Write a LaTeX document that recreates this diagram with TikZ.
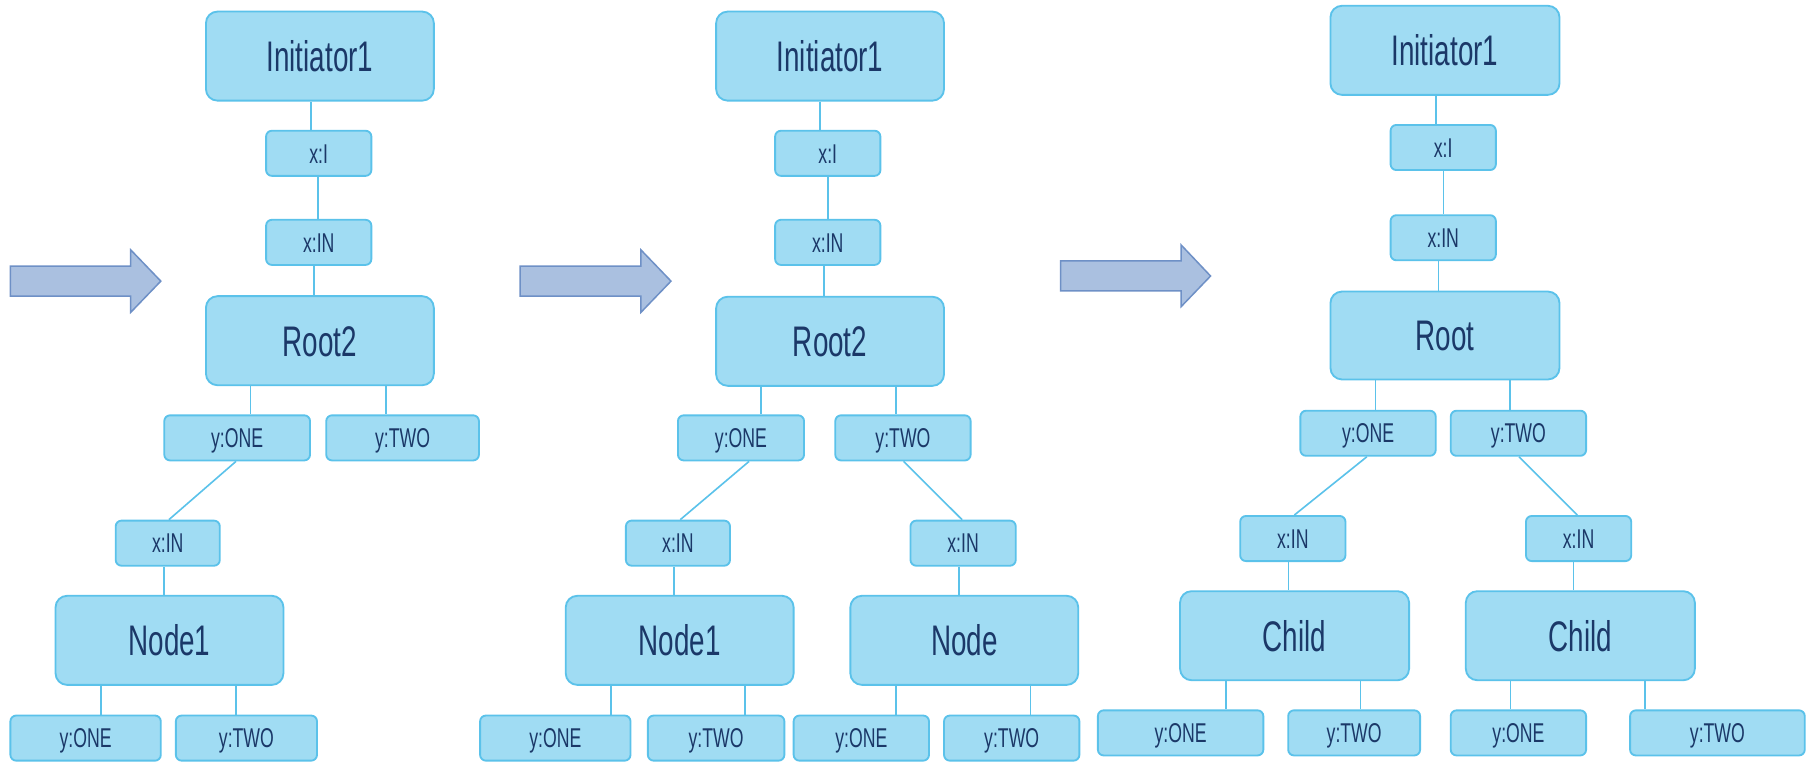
\documentclass[tikz,border=0pt]{standalone}
\usepackage{fontspec}
\setmainfont{Liberation Sans}[FakeStretch=0.65]
\definecolor{boxfill}{HTML}{A0DCF3}
\definecolor{boxline}{HTML}{5BC2EA}
\definecolor{boxtext}{HTML}{1B3868}
\definecolor{arrowfill}{HTML}{AAC0E0}
\definecolor{arrowline}{HTML}{6E90C6}
% vertical connector at a fixed x, from the bottom of #1 to the top of #2
\newcommand\vlink[3]{\draw[link] (#1.south -| #3,0) -- (#2.north -| #3,0);}
% slanted connector from the bottom of #1 (at x=#3) to the top of #2 (at x=#4)
\newcommand\dlink[4]{\draw[link] (#1.south -| #3,0) -- (#2.north -| #4,0);}
\begin{document}
\begin{tikzpicture}[x=1pt,y=1pt,
  box/.style={draw=boxline, fill=boxfill, line width=1.6pt, inner sep=0pt,
    text=boxtext, text depth=0pt},
  bigbox/.style={box, rounded corners=10pt, minimum height=77pt,
    text height=26.5pt, font=\fontsize{37}{40}\selectfont},
  tagbox/.style={box, rounded corners=5pt, minimum height=39pt,
    text height=16.8pt, font=\fontsize{23.5}{26}\selectfont},
  link/.style={draw=boxline, line width=1.4pt},
  stagearrow/.style={draw=arrowline, fill=arrowfill, line width=1.3pt, line join=miter}]
\useasboundingbox (0,0) rectangle (1568,-658);

% ---------- stage arrows ----------
\path[stagearrow] (9,-230) -- (113,-230) -- (113,-216) -- (139,-243) -- (113,-270) -- (113,-256) -- (9,-256) -- cycle;
\path[stagearrow] (449.6,-230) -- (554,-230) -- (554,-216) -- (580,-243) -- (554,-270) -- (554,-256) -- (449.6,-256) -- cycle;
\path[stagearrow] (916.8,-225.6) -- (1021,-225.6) -- (1021,-211.8) -- (1046.4,-238.6) -- (1021,-265) -- (1021,-251.5) -- (916.8,-251.5) -- cycle;

% ---------- first tree ----------
\node[bigbox, minimum width=197pt] (A-init) at (276.5,-48.5) {Initiator1};
\node[tagbox, minimum width=91pt]  (A-xi)   at (275.5,-132.5) {x:I};
\node[tagbox, minimum width=91pt]  (A-xin)  at (275.5,-209.5) {x:IN};
\node[bigbox, minimum width=197pt] (A-root) at (276.5,-294.5) {Root2};
\node[tagbox, minimum width=126pt] (A-y1)   at (205,-378.5) {y:ONE};
\node[tagbox, minimum width=132pt] (A-y2)   at (348,-378.5) {y:TWO};
\node[tagbox, minimum width=90pt]  (A-xin2) at (145,-469.5) {x:IN};
\node[bigbox, minimum width=197pt] (A-node) at (146.5,-553.5) {Node1};
\node[tagbox, minimum width=130pt] (A-b1)   at (74,-638) {y:ONE};
\node[tagbox, minimum width=122pt] (A-b2)   at (213,-638) {y:TWO};

\vlink{A-init}{A-xi}{269}
\vlink{A-xi}{A-xin}{275}
\vlink{A-xin}{A-root}{271.5}
\vlink{A-root}{A-y1}{216.6}
\vlink{A-root}{A-y2}{333.4}
\dlink{A-y1}{A-xin2}{204}{146}
\vlink{A-xin2}{A-node}{142}
\vlink{A-node}{A-b1}{87.5}
\vlink{A-node}{A-b2}{204}

% ---------- second tree ----------
\node[bigbox, minimum width=197pt] (B-init)  at (717.5,-48.5) {Initiator1};
\node[tagbox, minimum width=91pt]  (B-xi)    at (715.5,-132.5) {x:I};
\node[tagbox, minimum width=91pt]  (B-xin)   at (715.5,-209.5) {x:IN};
\node[bigbox, minimum width=197pt] (B-root)  at (717.5,-295) {Root2};
\node[tagbox, minimum width=109pt] (B-y1)    at (640.5,-378.5) {y:ONE};
\node[tagbox, minimum width=117pt] (B-y2)    at (780.5,-378.5) {y:TWO};
\node[tagbox, minimum width=90pt]  (B-xinL)  at (586,-469.5) {x:IN};
\node[tagbox, minimum width=91pt]  (B-xinR)  at (832.5,-469.5) {x:IN};
\node[bigbox, minimum width=197pt] (B-nodeL) at (587.5,-553.5) {Node1};
\node[bigbox, minimum width=197pt] (B-nodeR) at (833.5,-553.5) {Node};
\node[tagbox, minimum width=130pt] (B-b1)    at (480,-638) {y:ONE};
\node[tagbox, minimum width=118pt] (B-b2)    at (619,-638) {y:TWO};
\node[tagbox, minimum width=117pt] (B-b3)    at (744.5,-638) {y:ONE};
\node[tagbox, minimum width=117pt] (B-b4)    at (874.5,-638) {y:TWO};

\vlink{B-init}{B-xi}{709}
\vlink{B-xi}{B-xin}{715.6}
\vlink{B-xin}{B-root}{712}
\vlink{B-root}{B-y1}{658}
\vlink{B-root}{B-y2}{774.6}
\dlink{B-y1}{B-xinL}{647.5}{588}
\dlink{B-y2}{B-xinR}{781}{831.6}
\vlink{B-xinL}{B-nodeL}{582.6}
\vlink{B-xinR}{B-nodeR}{829}
\vlink{B-nodeL}{B-b1}{528}
\vlink{B-nodeL}{B-b2}{644}
\vlink{B-nodeR}{B-b3}{774.6}
\vlink{B-nodeR}{B-b4}{890.7}

% ---------- third tree ----------
\node[bigbox, minimum width=198pt] (C-init)   at (1249,-43.5) {Initiator1};
\node[tagbox, minimum width=91pt]  (C-xi)     at (1247.5,-127.5) {x:I};
\node[tagbox, minimum width=91pt]  (C-xin)    at (1247.5,-205.5) {x:IN};
\node[bigbox, minimum width=198pt, minimum height=76pt] (C-root) at (1249,-290) {Root};
\node[tagbox, minimum width=117pt] (C-y1)     at (1182.5,-374.5) {y:ONE};
\node[tagbox, minimum width=117pt] (C-y2)     at (1312.5,-374.5) {y:TWO};
\node[tagbox, minimum width=91pt]  (C-xinL)   at (1117.5,-465.5) {x:IN};
\node[tagbox, minimum width=91pt]  (C-xinR)   at (1364.5,-465.5) {x:IN};
\node[bigbox, minimum width=198pt] (C-childL) at (1119,-549.5) {Child};
\node[bigbox, minimum width=198pt] (C-childR) at (1366,-549.5) {Child};
\node[tagbox, minimum width=143pt] (C-b1)     at (1020.5,-633.5) {y:ONE};
\node[tagbox, minimum width=114pt] (C-b2)     at (1170.5,-633.5) {y:TWO};
\node[tagbox, minimum width=117pt] (C-b3)     at (1312.5,-633.5) {y:ONE};
\node[tagbox, minimum width=151pt] (C-b4)     at (1484.5,-633.5) {y:TWO};

\vlink{C-init}{C-xi}{1241}
\vlink{C-xi}{C-xin}{1247.7}
\vlink{C-xin}{C-root}{1243.5}
\vlink{C-root}{C-y1}{1189}
\vlink{C-root}{C-y2}{1305}
\dlink{C-y1}{C-xinL}{1181.5}{1118.8}
\dlink{C-y2}{C-xinR}{1313}{1363.4}
\vlink{C-xinL}{C-childL}{1113.8}
\vlink{C-xinR}{C-childR}{1360}
\vlink{C-childL}{C-b1}{1059.5}
\vlink{C-childL}{C-b2}{1176}
\vlink{C-childR}{C-b3}{1305.8}
\vlink{C-childR}{C-b4}{1421.8}
\end{tikzpicture}
\end{document}
